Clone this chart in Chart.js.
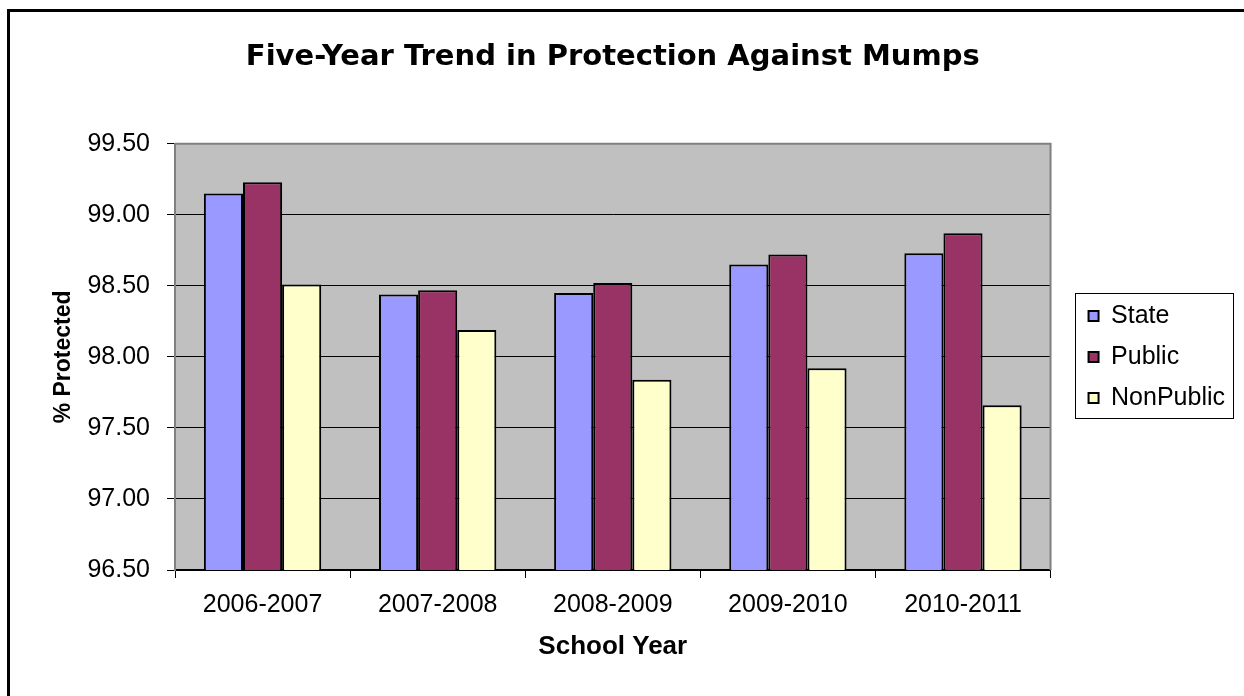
<!DOCTYPE html>
<html>
<head>
<meta charset="utf-8">
<script src="https://cdn.jsdelivr.net/npm/chart.js@4/dist/chart.umd.min.js"></script>
<style>
  html, body { margin: 0; padding: 0; background: #fff; }
  #wrap { position: relative; width: 1244px; height: 696px; overflow: hidden; }
  #frame { position: absolute; left: 7px; top: 9px; width: 1300px; height: 800px;
           border-top: 3px solid #000; border-left: 3px solid #000; pointer-events: none; }
  canvas { position: absolute; left: 0; top: 0; }
</style>
</head>
<body>
<div id="wrap">
  <canvas id="chart" width="1244" height="696"></canvas>
  <div id="frame"></div>
</div>
<script>
// data
var years = ['2006-2007', '2007-2008', '2008-2009', '2009-2010', '2010-2011'];
var stateValues = [99.15, 98.44, 98.45, 98.65, 98.73];
var publicValues = [99.23, 98.47, 98.52, 98.72, 98.87];
var nonPublicValues = [98.51, 98.19, 97.84, 97.92, 97.66];
var yMin = 96.5, yMax = 99.5, yStep = 0.5;

Chart.defaults.font.family = '"Liberation Sans", Arial, sans-serif';
Chart.defaults.color = '#000';

// grey plot area, frame and the boxed legend
var excelLook = {
    id: 'excelLook',
    beforeDraw: function(chart) {
        var a = chart.chartArea, ctx = chart.ctx;
        ctx.save();
        ctx.fillStyle = '#C0C0C0';
        ctx.fillRect(a.left, a.top, a.right - a.left, a.bottom - a.top);
        ctx.restore();
    },
    beforeDatasetsDraw: function(chart) {
        var a = chart.chartArea, ctx = chart.ctx;
        ctx.save();
        ctx.strokeStyle = '#808080';
        ctx.lineWidth = 2;
        ctx.beginPath();
        ctx.moveTo(a.left, a.top);
        ctx.lineTo(a.right, a.top);
        ctx.lineTo(a.right, a.bottom);
        ctx.stroke();
        ctx.restore();
    },
    afterDraw: function(chart) {
        var boxes = chart.legend.legendHitBoxes;
        if (!boxes || !boxes.length) return;
        var l = Infinity, t = Infinity, r = -Infinity, b = -Infinity;
        boxes.forEach(function(h) {
            l = Math.min(l, h.left); t = Math.min(t, h.top);
            r = Math.max(r, h.left + h.width); b = Math.max(b, h.top + h.height);
        });
        var ctx = chart.ctx;
        ctx.save();
        ctx.strokeStyle = '#000';
        ctx.lineWidth = 1;
        ctx.strokeRect(Math.round(l - 14) + 0.5, Math.round(t - 10) + 0.5,
                       Math.round(r - l + 22), Math.round(b - t + 18));
        ctx.restore();
    }
};

function barSet(label, values, colour) {
    return {
        label: label,
        data: values,
        backgroundColor: colour,
        borderColor: '#000',
        borderWidth: 2,
        borderSkipped: false,
        categoryPercentage: 0.67,
        barPercentage: 1.0
    };
}

new Chart(document.getElementById('chart').getContext('2d'), {
    type: 'bar',
    data: {
        labels: years,
        datasets: [
            barSet('State', stateValues, '#9999FF'),
            barSet('Public', publicValues, '#993366'),
            barSet('NonPublic', nonPublicValues, '#FFFFCC')
        ]
    },
    options: {
        responsive: false,
        animation: false,
        layout: { padding: { left: 0, right: 9, top: 0, bottom: 0 } },
        plugins: {
            title: {
                display: true,
                fullSize: false,
                text: 'Five-Year Trend in Protection Against Mumps',
                font: { family: '"DejaVu Sans", sans-serif', size: 29, weight: 'bold' },
                color: '#000',
                padding: { top: 40, bottom: 69 }
            },
            legend: {
                position: 'right',
                fullSize: false,
                labels: {
                    font: { size: 25 },
                    color: '#000',
                    boxWidth: 10,
                    boxHeight: 10,
                    padding: 16
                }
            },
            tooltip: { enabled: false }
        },
        scales: {
            x: {
                ticks: { font: { size: 25 }, color: '#000', padding: 12 },
                grid: { drawOnChartArea: false, color: '#000', tickLength: 8, offset: true },
                border: { color: '#000', width: 1.5 },
                title: {
                    display: true, text: 'School Year',
                    font: { size: 26, weight: 'bold' }, color: '#000',
                    padding: { top: 0, bottom: 34 }
                },
                afterFit: function(s) { s.height = 126; }
            },
            y: {
                min: yMin,
                max: yMax,
                ticks: {
                    stepSize: yStep,
                    font: { size: 25 },
                    color: '#000',
                    padding: 17,
                    callback: function(v) { return Number(v).toFixed(2); }
                },
                grid: { color: '#000', lineWidth: 1, tickLength: 8 },
                border: { color: '#808080', width: 2 },
                title: {
                    display: true, text: '% Protected',
                    font: { size: 23, weight: 'bold' }, color: '#000',
                    padding: { top: 50, bottom: 0 }
                },
                afterFit: function(s) { s.width = 175; }
            },
            gap: {
                type: 'linear',
                position: 'right',
                display: true,
                ticks: { display: false },
                grid: { display: false, drawTicks: false },
                border: { display: false },
                afterFit: function(s) { s.width = 22; }
            }
        }
    },
    plugins: [excelLook]
});
</script>
</body>
</html>
